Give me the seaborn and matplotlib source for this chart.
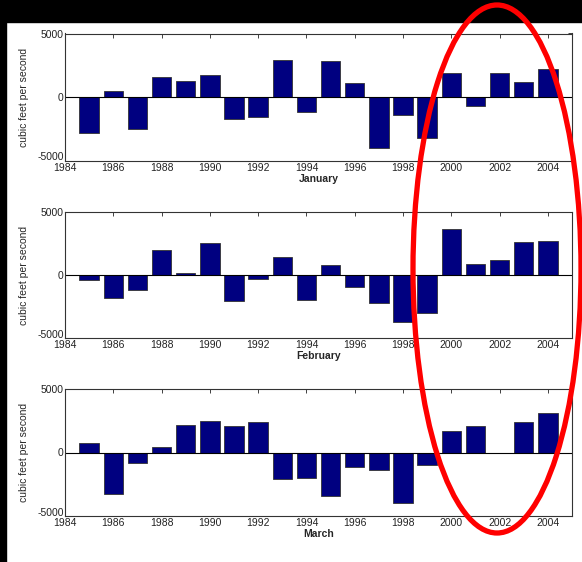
import numpy as np
import pandas as pd
import seaborn as sns
import matplotlib.pyplot as plt
from matplotlib.patches import Ellipse, Rectangle
from matplotlib.transforms import ScaledTranslation

# Anomalias de caudal por mes (pies cubicos por segundo)
years = list(range(1985, 2005))
january = [-2800, 470, -2530, 1600, 1290, 1710, -1760, -1580, 2950, -1180,
           2870, 1080, -4050, -1450, -3210, 1870, -740, 1870, 1160, 2240]
february = [-400, -1830, -1170, 2020, 160, 2550, -2100, -350, 1440, -1970,
            770, -930, -2210, -3700, -2980, 3640, 900, 1170, 2610, 2660]
march = [710, -3240, -820, 400, 2180, 2500, 2050, 2420, -2080, -2030,
         -3420, -1180, -1370, -3950, -1000, 1680, 2050, 0, 2370, 3080]
months = ['January', 'February', 'March']
xticks = list(range(1984, 2006, 2))
yticks = [-5000, 0, 5000]

df = pd.DataFrame({'year': years, 'January': january,
                   'February': february, 'March': march})

sns.set_style('white')
plt.rcParams['font.family'] = ['Liberation Sans', 'DejaVu Sans']
plt.rcParams['axes.unicode_minus'] = False

W, H = 582, 562
fig = plt.figure(figsize=(W / 100, H / 100), dpi=100)

# cajas de ejes en pixeles (izq, arriba, der, abajo)
boxes = [(65, 33.5, 572, 160.5), (65, 212, 572, 338), (65, 389, 572, 516)]

for mes, (l, t, r, b) in zip(months, boxes):
    ax = fig.add_axes([l / W, 1 - b / H, (r - l) / W, (b - t) / H])
    sns.barplot(x='year', y=mes, data=df, native_scale=True, width=0.8,
                color='#000080', saturation=1, edgecolor='#333333',
                linewidth=0.6, ax=ax)
    ax.axhline(0, color='black', lw=0.8)
    ax.set_xlim(1984, 2005)
    ax.set_ylim(-5000, 5000)
    ax.set_xticks(xticks)
    ax.set_yticks(yticks)
    ax.tick_params(direction='in', top=True, right=True, length=3,
                   width=0.6, labelsize=7.5, colors='#222222')
    ax.tick_params(axis='x', pad=1.5)
    ax.tick_params(axis='y', pad=1)
    # subir un poco el -5000 para que no choque con 1984
    lab = ax.get_yticklabels()[0]
    lab.set_transform(lab.get_transform() +
                      ScaledTranslation(0, 3 / 72, fig.dpi_scale_trans))
    for s in ax.spines.values():
        s.set_linewidth(0.8)
        s.set_color('#333333')
    ax.set_xlabel(mes, fontsize=7.5, fontweight='bold', labelpad=1)
    ax.set_ylabel('cubic feet per second', fontsize=7.5, labelpad=6)

# marco negro
fig.add_artist(Rectangle((0, 1 - 22 / H), 1, 22 / H, transform=fig.transFigure,
                         color='black', zorder=10))
fig.add_artist(Rectangle((0, 0), 6 / W, 1, transform=fig.transFigure,
                         color='black', zorder=10))

# elipse roja
fig.add_artist(Ellipse((497 / W, 1 - 269 / H), 168 / W, 528 / H,
                       transform=fig.transFigure, fill=False,
                       edgecolor='#ff0000', lw=3.8, zorder=11))

plt.savefig('out.png', dpi=100)
